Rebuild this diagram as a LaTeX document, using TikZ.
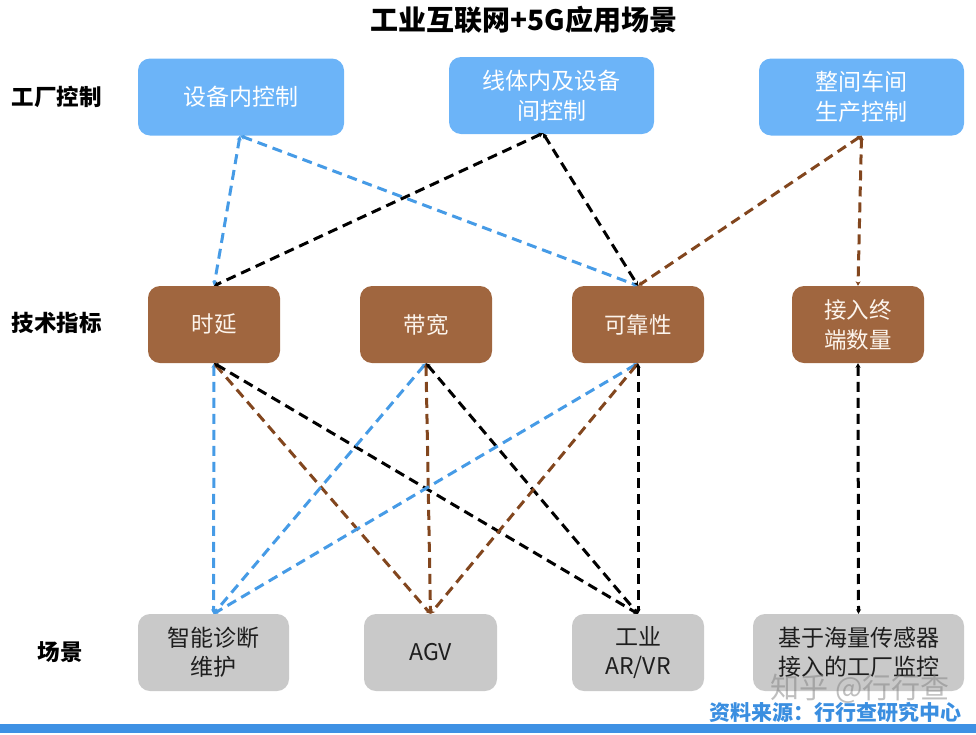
\documentclass[tikz,border=0pt]{standalone}
\usepackage{fontspec}
\setmainfont{Noto Sans CJK SC}
\usetikzlibrary{arrows.meta}
\definecolor{boxblue}{RGB}{108,180,248}
\definecolor{boxbrown}{RGB}{160,102,63}
\definecolor{boxgray}{RGB}{201,201,201}
\definecolor{lnblue}{RGB}{70,155,230}
\definecolor{lnbrown}{RGB}{130,70,30}
\definecolor{barblue}{RGB}{62,145,228}
\definecolor{srcblue}{RGB}{58,142,224}
\tikzset{
  topbox/.style={fill=boxblue, rounded corners=12pt, minimum height=77pt, text=white, align=center, font=\fontsize{23}{30}\selectfont, inner sep=0pt},
  techbox/.style={fill=boxbrown, rounded corners=12pt, minimum width=132pt, minimum height=77pt, text={rgb,255:red,252;green,244;blue,236}, align=center, font=\fontsize{22.5}{30}\selectfont, inner sep=0pt},
  scenebox/.style={fill=boxgray, rounded corners=12pt, minimum height=77pt, text={rgb,255:red,30;green,30;blue,30}, align=center, font=\fontsize{23}{29}\selectfont, inner sep=0pt},
  rowlabel/.style={font=\bfseries\fontsize{22.5}{26}\selectfont, anchor=center},
  conn/.style={line width=3pt, dash pattern=on 10pt off 6pt, {Stealth[length=4.5pt,width=5pt]}-{Stealth[length=4.5pt,width=5pt]}},
  cblue/.style={conn, draw=lnblue},
  cblack/.style={conn, draw=black},
  cbrown/.style={conn, draw=lnbrown},
}
\begin{document}
\begin{tikzpicture}[x=1pt,y=-1pt]
\useasboundingbox (0,0) rectangle (976,734);
% title
\node[font=\bfseries\fontsize{28}{32}\selectfont] (title) at (524,20) {工业互联网+5G应用场景};
% row labels
\node[rowlabel] (l1) at (57,97) {工厂控制};
\node[rowlabel] (l2) at (57,323) {技术指标};
\node[rowlabel] (l3) at (60,652) {场景};
% top boxes
\node[topbox, minimum width=206pt] (b1) at (241,97) {设备内控制};
\node[topbox, minimum width=205pt] (b2) at (551.5,95.5) {线体内及设备\\间控制};
\node[topbox, minimum width=205pt] (b3) at (861.5,97) {整间车间\\生产控制};
% tech boxes
\node[techbox] (t1) at (214,324.5) {时延};
\node[techbox] (t2) at (426,324.5) {带宽};
\node[techbox] (t3) at (638,324.5) {可靠性};
\node[techbox] (t4) at (858,324.5) {接入终\\端数量};
% scene boxes
\node[scenebox, minimum width=151pt] (s1) at (213.5,652.5) {智能诊断\\维护};
\node[scenebox, minimum width=133pt] (s2) at (430.5,652.5) {AGV};
\node[scenebox, minimum width=132pt] (s3) at (638,652.5) {工业\\AR/VR};
\node[scenebox, minimum width=211pt] (s4) at (858.5,652.5) {基于海量传感器\\接入的工厂监控};
% anchor points
\coordinate (b1s) at ([xshift=-1pt]b1.south);
\coordinate (b2s) at ([xshift=-8.5pt,yshift=1pt]b2.south);
\coordinate (b3s) at (b3.south);
% top -> tech
\draw[cblue] (b1s) -- (t1.north);
\draw[cblue] (b1s) -- (t3.north);
\draw[cblack] (b2s) -- (t1.north);
\draw[cblack] (b2s) -- (t3.north);
\draw[cbrown] (b3s) -- (t3.north);
\draw[cbrown] (b3s) -- (t4.north);
% tech -> scene
\draw[cblue] (t1.south) -- (s1.north);
\draw[cbrown] (t1.south) -- (s2.north);
\draw[cblack] (t1.south) -- (s3.north);
\draw[cblue] (t2.south) -- (s1.north);
\draw[cbrown] (t2.south) -- (s2.north);
\draw[cblack] (t2.south) -- (s3.north);
\draw[cblue] (t3.south) -- (s1.north);
\draw[cbrown] (t3.south) -- (s2.north);
\draw[cblack] (t3.south) -- (s3.north);
\draw[cblack] (t4.south) -- (s4.north);
% watermark
\node[text=gray, opacity=0.5, font=\fontsize{29}{30}\selectfont] (wm) at (860,689) {知乎 @行行查};
% source
\node[text=srcblue, font=\bfseries\fontsize{21}{24}\selectfont, anchor=east] (src) at (965,712) {资料来源：行行查研究中心};
% bottom bar
\fill[barblue] (0,724) rectangle (976,733);
\end{tikzpicture}
\end{document}
